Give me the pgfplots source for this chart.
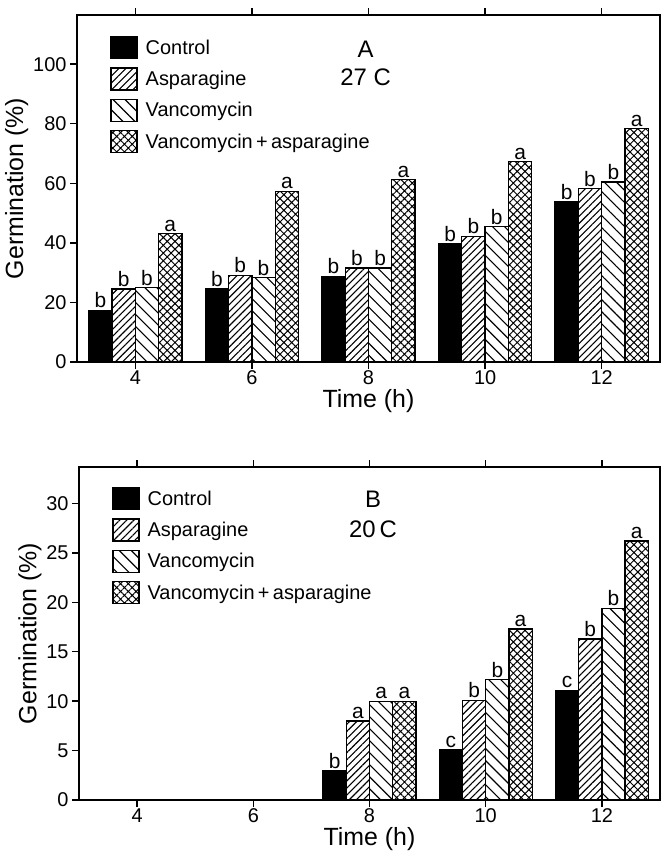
\documentclass[border=0pt]{standalone}
\usepackage{pgfplots}
\pgfplotsset{compat=1.18}
\usepackage{fontspec}
\setmainfont{Liberation Sans}
\usetikzlibrary{patterns.meta}

\pgfplotsset{
  germ/.style={
    scale only axis,
    xmin=3, xmax=13, ymin=0,
    xtick={4,6,8,10,12},
    ybar=0pt, bar width=0.4,
    axis line style={line width=1.6bp},
    tick style={line width=1.4bp, black},
    major tick length=7bp,
    tick align=outside,
    /pgf/number format/assume math mode=true,
    tick label style={font=\fontsize{20}{22}\selectfont},
    xticklabel style={yshift=2bp},
    label style={font=\fontsize{25}{28}\selectfont},
    xlabel={Time (h)},
    ylabel={Germination (\%)},
    xlabel style={yshift=2bp},
    ylabel style={yshift=-2bp},
    point meta=explicit symbolic,
    nodes near coords,
    every node near coord/.append style={font=\fontsize{21}{22}\selectfont, inner sep=1.5bp},
    legend cell align=left,
    legend image code/.code={\draw[##1, line width=1.3bp] (0bp,-11bp) rectangle (26bp,11bp);},
    legend style={draw=none, fill=none, anchor=north west, inner sep=0pt,
      font=\fontsize{20}{22}\selectfont, row sep=8bp,
      /tikz/every odd column/.append style={column sep=7bp},
      nodes={inner sep=1bp, anchor=west}},
  },
  ctrl/.style={fill=black, draw=black, line width=1.3bp},
  asp/.style={draw=black, line width=1.3bp,
    pattern={Lines[angle=45,distance=5bp,line width=1.1bp]}},
  van/.style={draw=black, line width=1.3bp,
    pattern={Lines[angle=-45,distance=8.5bp,line width=1.1bp]}},
  vanasp/.style={draw=black, line width=1.3bp,
    pattern={Hatch[angle=45,distance=5.5bp,line width=1bp]}},
}

\begin{document}
\begin{tikzpicture}
\path[use as bounding box] (0,0) rectangle (661bp,-852bp);

% Panel A, 27 C
\begin{axis}[germ,
  at={(77bp,-362bp)}, anchor=south west,
  width=583bp, height=347bp,
  ymax=116.5, ytick={0,20,40,60,80,100},
  legend style={at={(0.057,0.94)}}]
\addplot[ctrl] coordinates {(4,17.4)[b] (6,24.7)[b] (8,28.8)[b] (10,39.7)[b] (12,53.7)[b]};
\addplot[asp] coordinates {(4,24.5)[b] (6,29.1)[b] (8,31.6)[b] (10,42.2)[b] (12,58.2)[b]};
\addplot[van] coordinates {(4,24.9)[b] (6,28.3)[b] (8,31.6)[b] (10,45.4)[b] (12,60.4)[b]};
\addplot[vanasp] coordinates {(4,43.1)[a] (6,57.3)[a] (8,61.2)[a] (10,67.3)[a] (12,78.3)[a]};
\legend{Control,Asparagine,Vancomycin,Vancomycin\,+\,asparagine}
\node[font=\fontsize{24}{26}\selectfont] at (axis cs:7.95,104.9) {A};
\node[font=\fontsize{24}{26}\selectfont] at (axis cs:7.95,95.5) {27 C};
\end{axis}

% Panel B, 20 C
\begin{axis}[germ,
  at={(79bp,-800bp)}, anchor=south west,
  width=581bp, height=333bp,
  ymax=33.7, ytick={0,5,10,15,20,25,30},
  legend style={at={(0.057,0.94)}}]
\addplot[ctrl] coordinates {(8,3.0)[b] (10,5.1)[c] (12,11.1)[c]};
\addplot[asp] coordinates {(8,8.0)[a] (10,10.1)[b] (12,16.3)[b]};
\addplot[van] coordinates {(8,10.0)[a] (10,12.2)[b] (12,19.4)[b]};
\addplot[vanasp] coordinates {(8,10.0)[a] (10,17.3)[a] (12,26.2)[a]};
\legend{Control,Asparagine,Vancomycin,Vancomycin\,+\,asparagine}
\node[font=\fontsize{24}{26}\selectfont] at (axis cs:8.06,30.4) {B};
\node[font=\fontsize{24}{26}\selectfont] at (axis cs:8.06,27.4) {20\,C};
\end{axis}
\end{tikzpicture}
\end{document}
